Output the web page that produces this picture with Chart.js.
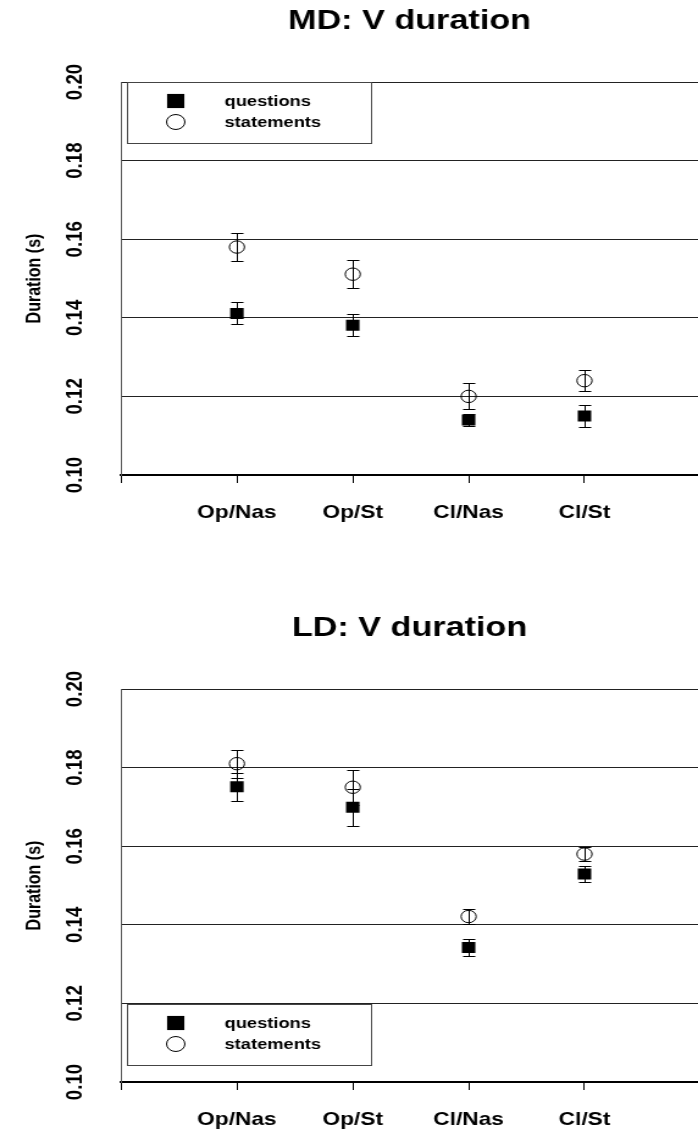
<!DOCTYPE html>
<html>
<head>
<meta charset="utf-8">
<script src="https://cdn.jsdelivr.net/npm/chart.js@4/dist/chart.umd.min.js"></script>
<style>
  html, body { margin: 0; padding: 0; background: #fff; }
  body { width: 698px; height: 1133px; position: relative; overflow: hidden; }
  /* the original is stretched sideways, so draw narrow and widen */
  .wrap { position: absolute; left: 0; transform: scaleX(1.2203); transform-origin: 0 0; }
  .wrap canvas { display: block; }
</style>
</head>
<body>
<div class="wrap" style="top:0"><canvas id="mdChart" width="572" height="526"></canvas></div>
<div class="wrap" style="top:607px"><canvas id="ldChart" width="572" height="526"></canvas></div>
<script>
// ---------- DATA ----------
const categories = ["Op/Nas", "Op/St", "Cl/Nas", "Cl/St"];
const yTicks = [0.10, 0.12, 0.14, 0.16, 0.18, 0.20];
const seriesNames = ["questions", "statements"];

const mdQuestions = [0.1411, 0.1381, 0.1140, 0.1150];
const mdQuestionsErr = [0.0028, 0.0028, 0.0016, 0.0027];
const mdStatements = [0.1580, 0.1511, 0.1200, 0.1240];
const mdStatementsErr = [0.0036, 0.0035, 0.0033, 0.0027];

const ldQuestions = [0.1751, 0.1699, 0.1342, 0.1529];
const ldQuestionsErr = [0.0035, 0.0047, 0.0021, 0.0021];
const ldStatements = [0.1810, 0.1750, 0.1421, 0.1580];
const ldStatementsErr = [0.0036, 0.0045, 0.0018, 0.0018];

const FONT = "'Liberation Sans', Arial, Helvetica, sans-serif";

// legend symbols are a bit bigger than the plotted ones
const legendRadius = [10, 7.5];

// ---------- PLUGIN: error bars, titles, y labels, legend ----------
const rPlot = {
  id: "rPlot",
  beforeDatasetsDraw(chart, args, opts) {
    const { ctx, scales: { x, y } } = chart;
    ctx.save();
    ctx.strokeStyle = "#000";
    ctx.lineWidth = 1;
    opts.errors.forEach((errs, di) => {
      chart.data.datasets[di].data.forEach((p, i) => {
        const px = Math.round(x.getPixelForValue(p.x)) + 0.5;
        const top = Math.round(y.getPixelForValue(p.y + errs[i])) + 0.5;
        const bot = Math.round(y.getPixelForValue(p.y - errs[i])) + 0.5;
        ctx.beginPath();
        ctx.moveTo(px, top);
        ctx.lineTo(px, bot);
        ctx.moveTo(px - 5, top);
        ctx.lineTo(px + 5, top);
        ctx.moveTo(px - 5, bot);
        ctx.lineTo(px + 5, bot);
        ctx.stroke();
      });
    });
    ctx.restore();
  },
  afterDraw(chart, args, opts) {
    const { ctx, chartArea, scales: { y } } = chart;
    ctx.save();
    ctx.fillStyle = "#000";

    // title
    ctx.font = "bold 28px " + FONT;
    ctx.textAlign = "center";
    ctx.textBaseline = "alphabetic";
    ctx.fillText(opts.title, (chartArea.left + chartArea.right) / 2, 29);

    // y tick labels, rotated like R's
    ctx.font = "bold 18.7px " + FONT;
    yTicks.forEach((v) => {
      ctx.save();
      ctx.translate(67, y.getPixelForValue(v));
      ctx.rotate(-Math.PI / 2);
      ctx.fillText(v.toFixed(2), 0, 0);
      ctx.restore();
    });

    // y axis title
    ctx.font = "bold 16px " + FONT;
    ctx.save();
    ctx.translate(32.5, (chartArea.top + chartArea.bottom) / 2);
    ctx.rotate(-Math.PI / 2);
    ctx.fillText("Duration (s)", 0, 0);
    ctx.restore();

    // legend box
    const lx = 104, lw = 200, ly = opts.legendTop, lh = 61;
    ctx.strokeStyle = "#444";
    ctx.lineWidth = 1;
    ctx.strokeRect(lx + 0.5, ly + 0.5, lw, lh);
    ctx.font = "bold 15px " + FONT;
    ctx.textAlign = "left";
    ctx.textBaseline = "middle";
    seriesNames.forEach((name, i) => {
      const ds = chart.data.datasets[i];
      const cy = ly + 19 + i * 21;
      ctx.fillStyle = ds.backgroundColor;
      ctx.strokeStyle = ds.borderColor;
      ctx.lineWidth = ds.borderWidth || 1;
      Chart.helpers.drawPoint(ctx, {
        pointStyle: ds.pointStyle,
        radius: legendRadius[i],
        borderWidth: ds.borderWidth,
        rotation: 0,
      }, 144, cy);
      ctx.fillStyle = "#000";
      ctx.fillText(name, 184, cy + 1);
    });
    ctx.restore();
  },
};

// ---------- CHART BUILDER ----------
function makeChart(id, title, questions, qErr, statements, sErr, legendTop) {
  const toPoints = (vals) => vals.map((v, i) => ({ x: i + 1, y: v }));

  return new Chart(document.getElementById(id), {
    type: "scatter",
    data: {
      datasets: [
        {
          label: seriesNames[0],
          data: toPoints(questions),
          pointStyle: "rect",
          pointRadius: 7.8,
          pointHoverRadius: 7.8,
          backgroundColor: "#000",
          borderColor: "#000",
          borderWidth: 0,
        },
        {
          label: seriesNames[1],
          data: toPoints(statements),
          pointStyle: "circle",
          pointRadius: 6.2,
          pointHoverRadius: 6.2,
          backgroundColor: "rgba(0,0,0,0)",
          borderColor: "#000",
          borderWidth: 1,
        },
      ],
    },
    options: {
      responsive: false,
      animation: false,
      events: [],
      layout: { autoPadding: false, padding: { top: 82, left: 0, right: 0, bottom: 0 } },
      plugins: {
        legend: { display: false },
        tooltip: { enabled: false },
        title: { display: false },
        rPlot: { title: title, errors: [qErr, sErr], legendTop: legendTop },
      },
      scales: {
        x: {
          type: "linear",
          min: 0,
          max: 4.98,
          afterFit: (scale) => { scale.height = 51; },
          ticks: {
            stepSize: 1,
            includeBounds: false,
            autoSkip: false,
            maxRotation: 0,
            padding: 19,
            color: "#000",
            font: { family: FONT, size: 18.6, weight: "bold" },
            callback: (v) => categories[v - 1] ?? "",
          },
          grid: { drawOnChartArea: false, drawTicks: true, tickLength: 8, color: "#000" },
          border: { display: true, color: "#000", width: 2 },
        },
        y: {
          min: 0.1,
          max: 0.2,
          afterFit: (scale) => { scale.width = 99.2; },
          ticks: { display: false, stepSize: 0.02 },
          grid: { drawTicks: false, color: "#222", lineWidth: 1 },
          border: { display: true, color: "#555", width: 1 },
        },
      },
    },
    plugins: [rPlot],
  });
}

// ---------- INIT ----------
makeChart("mdChart", "MD: V duration", mdQuestions, mdQuestionsErr, mdStatements, mdStatementsErr, 82);
makeChart("ldChart", "LD: V duration", ldQuestions, ldQuestionsErr, ldStatements, ldStatementsErr, 397);
</script>
</body>
</html>
